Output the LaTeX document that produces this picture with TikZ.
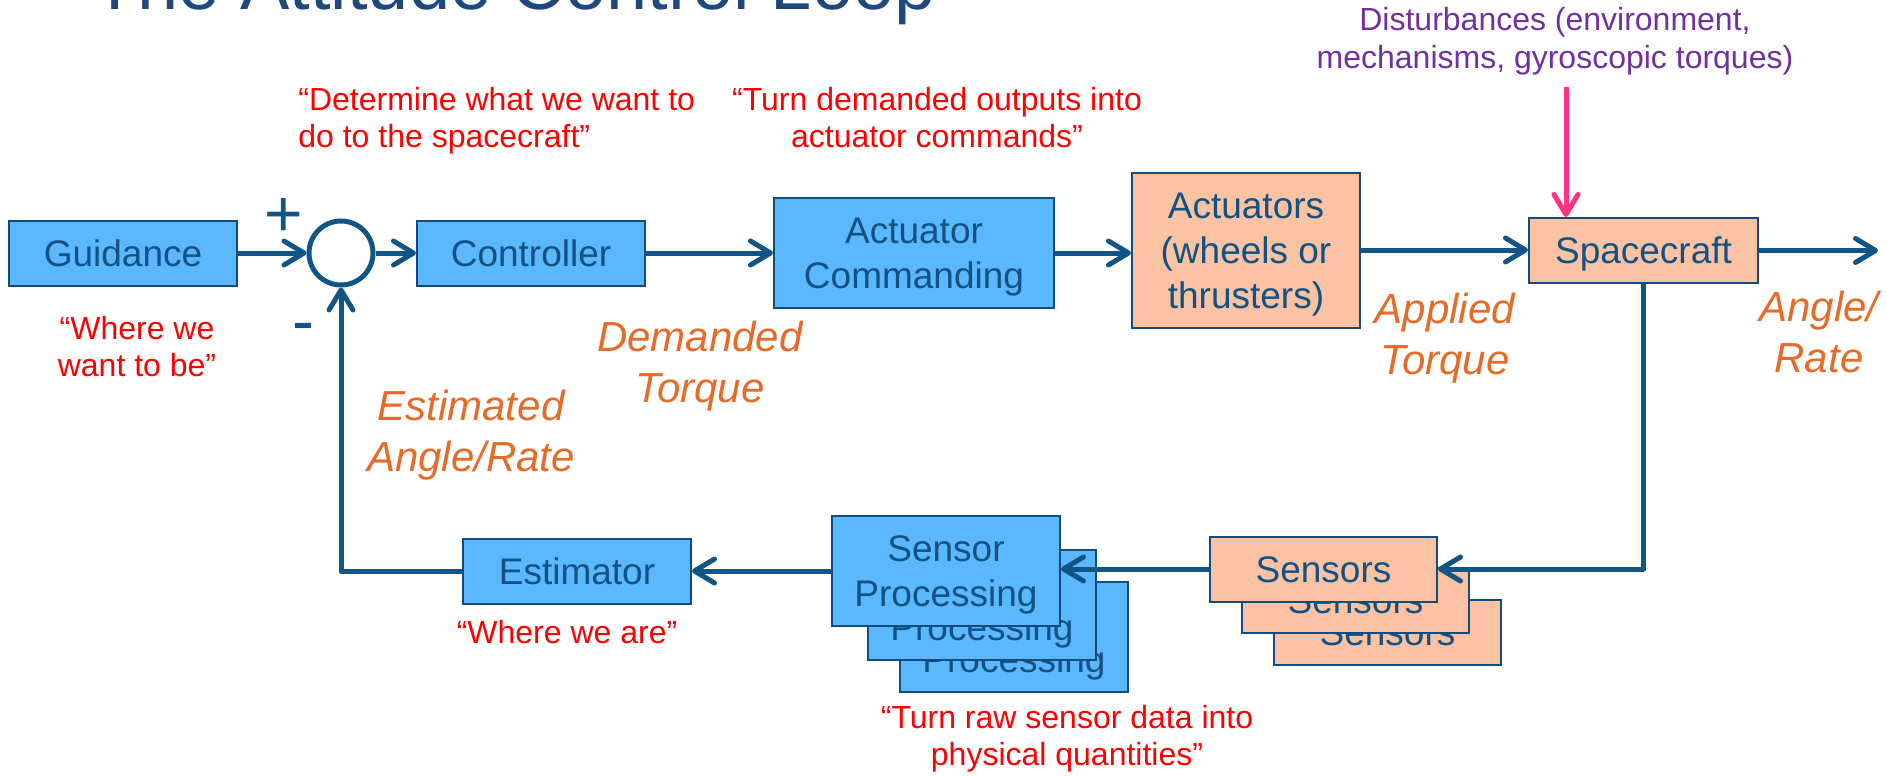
\documentclass[tikz,border=0pt]{standalone}
\usepackage{fontspec}
\setmainfont{Liberation Sans}
\usetikzlibrary{arrows.meta}

\definecolor{flow}{RGB}{17,85,134}
\definecolor{boxline}{RGB}{16,76,124}
\definecolor{boxtxt}{RGB}{17,82,130}
\definecolor{bluefill}{RGB}{91,184,255}
\definecolor{orgfill}{RGB}{252,194,164}
\definecolor{labor}{RGB}{230,106,40}
\definecolor{notered}{RGB}{255,0,0}
\definecolor{distpurple}{RGB}{112,48,160}
\definecolor{distpink}{RGB}{255,51,133}
\definecolor{titleblue}{RGB}{31,73,125}

\newcommand\capT{\rule{0pt}{0.93em}}
\newcommand\capB{\rule[-0.21em]{0pt}{0.21em}}
\newcommand\myBoxFont{\fontsize{18.5pt}{22.5pt}\selectfont}
\newcommand\myNoteFont{\fontsize{16pt}{18.5pt}\selectfont}
\newcommand\myLabFont{\fontsize{21pt}{25.5pt}\selectfont\itshape}
\newcommand\myDistFont{\fontsize{16pt}{19pt}\selectfont}
\newcommand\myTitleFont{\fontsize{37pt}{44pt}\selectfont}
\newcommand\mySignFont{\fontsize{33pt}{40pt}\selectfont}

\begin{document}
\begin{tikzpicture}[x=0.5pt,y=-0.5pt,
  blk/.style={draw=boxline, line width=1pt, text=boxtxt, font=\myBoxFont, align=center, inner sep=0pt},
  bluebox/.style={blk, fill=bluefill},
  orgbox/.style={blk, fill=orgfill},
  flowline/.style={draw=flow, line width=2.5pt, line join=round},
  flowarrow/.style={flowline, -{Straight Barb[length=10pt,width=12pt,round]}},
  distarrow/.style={draw=distpink, line width=2.5pt, -{Straight Barb[length=10pt,width=12pt,round]}},
  note/.style={text=notered, font=\myNoteFont, align=center, inner sep=0pt},
  lab/.style={text=labor, font=\myLabFont, align=center, inner sep=0pt},
  sign/.style={text=flow, font=\mySignFont, inner sep=0pt, anchor=base},
]
\useasboundingbox (0,0) rectangle (1887,776);

% title (cut by the top edge)
\begin{scope}
\clip (0,0) rectangle (1887,776);
\node[anchor=base west, inner sep=0pt, text=titleblue, font=\myTitleFont] (title) at (92,10) {The Attitude Control Loop};
\end{scope}

% blocks
\node[bluebox, minimum width=114pt, minimum height=32.5pt] (guid) at (123,253) {\capT Guidance\capB};
\node[circle, draw=flow, line width=2.5pt, minimum size=32pt, inner sep=0pt] (sum) at (341,253) {};
\node[bluebox, minimum width=114pt, minimum height=32.5pt] (ctrl) at (531,253) {\capT Controller\capB};
\node[bluebox, minimum width=140pt, minimum height=55pt] (acmd) at (914,253) {\capT Actuator\\Commanding\capB};
\node[orgbox, minimum width=114pt, minimum height=77.5pt] (act) at (1246,250) {\capT Actuators\\(wheels or\\thrusters)\capB};
\node[orgbox, minimum width=114.5pt, minimum height=32.5pt] (sc) at (1643.5,250.5) {\capT Spacecraft\capB};

\node[orgbox, minimum width=113.5pt, minimum height=32.5pt] (sens3) at (1387.5,632) {\capT Sensors\capB};
\node[orgbox, minimum width=113.5pt, minimum height=32.5pt] (sens2) at (1355.5,600.5) {\capT Sensors\capB};
\node[orgbox, minimum width=113.5pt, minimum height=32.5pt] (sens) at (1323.5,569) {\capT Sensors\capB};

\node[bluebox, minimum width=114pt, minimum height=55pt] (sp3) at (1014,637) {\capT Sensor\\Processing\capB};
\node[bluebox, minimum width=114pt, minimum height=55pt] (sp2) at (982,605) {\capT Sensor\\Processing\capB};
\node[bluebox, minimum width=114pt, minimum height=55pt] (sp) at (946,571) {\capT Sensor\\Processing\capB};

\node[bluebox, minimum width=114pt, minimum height=32.5pt] (est) at (577,571.5) {\capT Estimator\capB};

% signs
\node[sign] (plus) at (284,236) {+};
\node[sign] (minus) at (303,343) {-};

% connectors
\coordinate (out) at (1878,250.5);
\coordinate (dist) at (1566,87);
\draw[flowarrow] (guid.east) -- (sum.west);
\draw[flowarrow] (sum.east) -- (ctrl.west);
\draw[flowarrow] (ctrl.east) -- (acmd.west);
\draw[flowarrow] (acmd.east) -- (act.west |- acmd.east);
\draw[flowarrow] (act.east) -- (sc.west |- act.east);
\draw[flowarrow] (sc.east) -- (out);
\draw[distarrow] (dist) -- (dist |- sc.north);
\draw[flowarrow] (sc.south) |- (sens.east);
\draw[flowarrow] (sens.west) -- (sp.east |- sens.west);
\draw[flowarrow] (sp.west) -- (est.east |- sp.west);
\draw[flowarrow] (est.west) -| (sum.south);

% annotations
\node[note] (wwant) at (137,346.5) {\capT “Where we\\want to be”\capB};
\node[note, align=left, anchor=west] (determine) at (298,117) {\capT “Determine what we want to\\do to the spacecraft”\capB};
\node[note] (turnd) at (937,117) {\capT “Turn demanded outputs into\\actuator commands”\capB};
\node[note] (wwa) at (567,631.5) {\capT “Where we are”\capB};
\node[note] (turnr) at (1067,735.5) {\capT “Turn raw sensor data into\\physical quantities”\capB};
\node[text=distpurple, font=\myDistFont, align=center, inner sep=0pt] (distlab) at (1555,37.5) {\capT Disturbances (environment,\\mechanisms, gyroscopic torques)\capB};

\node[lab] (estl) at (471,431) {\capT Estimated\\Angle/Rate\capB};
\node[lab] (deml) at (700,362) {\capT Demanded\\Torque\capB};
\node[lab] (appl) at (1445,333.5) {\capT Applied\\Torque\capB};
\node[lab] (angl) at (1819,332) {\capT Angle/\\Rate\capB};
\end{tikzpicture}
\end{document}
